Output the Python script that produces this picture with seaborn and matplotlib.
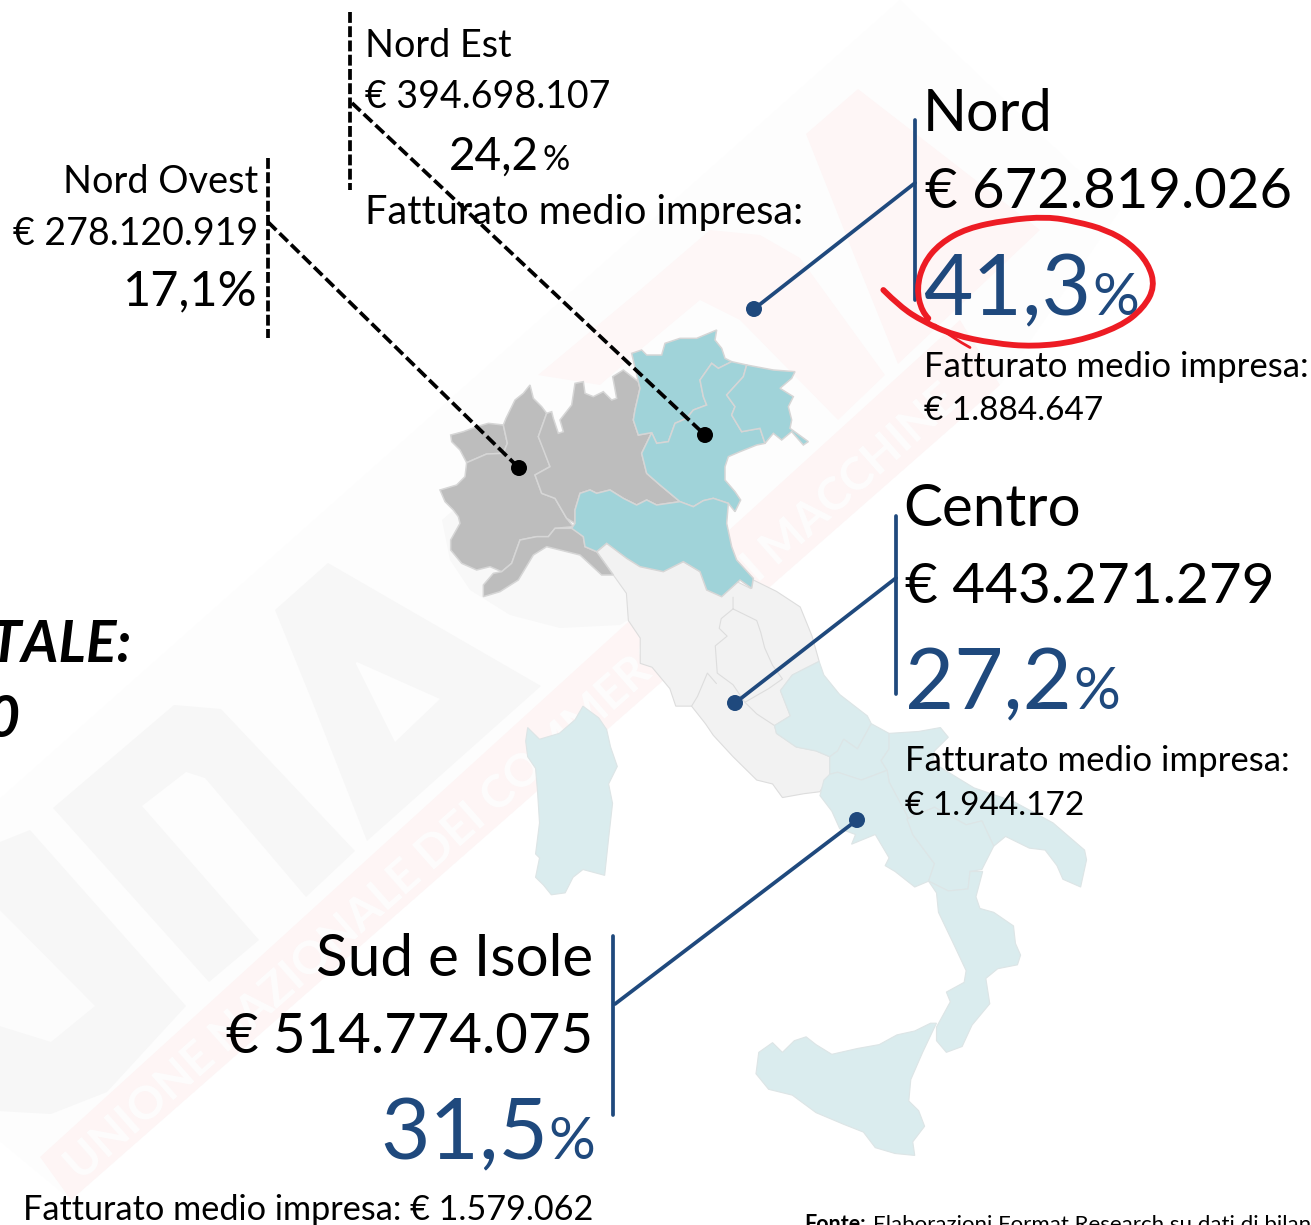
# ==========================================================
# FATTURATO PER AREA - MAPPA ITALIA
# ==========================================================

import matplotlib
matplotlib.use("Agg")
import matplotlib.pyplot as plt
from matplotlib.patches import PathPatch
from matplotlib.path import Path
import seaborn as sns

# ==========================================================
# DATA
# ==========================================================

AREA_TITLES = ["Nord", "Centro", "Sud e Isole"]
AREA_REVENUE = ["€ 672.819.026", "€ 443.271.279", "€ 514.774.075"]
AREA_SHARE = ["41,3", "27,2", "31,5"]
AREA_AVERAGE = ["€ 1.884.647", "€ 1.944.172", "€ 1.579.062"]
AVERAGE_LABEL = "Fatturato medio impresa:"

SUB_TITLES = ["Nord Est", "Nord Ovest"]
SUB_REVENUE = ["€ 394.698.107", "€ 278.120.919"]
SUB_SHARE = ["24,2", "17,1"]

TOTAL_LABEL = "TOTALE:"
TOTAL_TAIL = "0"
SOURCE_BOLD = "Fonte:"
SOURCE_TEXT = "Elaborazioni Format Research su dati di bilancio"
WATERMARK = "UNIONE NAZIONALE DEI COMMERCIANTI MACCHINE"

# region outlines (north = crop A, centre/south = crop B)
VALLE_AOSTA = [(92,375),(130,365),(170,350),(205,340),(250,345),(262,400),(250,430),(200,432),(140,458),(120,420),(95,395)]
PIEMONTE = [(250,345),(258,325),(285,270),(310,250),(330,225),(340,265),(365,290),(380,310),(355,380),(372,420),(390,470),(345,495),(365,550),(405,565),(440,625),(460,650),(405,655),(385,680),(350,680),(300,690),(275,760),(245,785),(210,770),(170,780),(125,760),(92,720),(92,690),(120,640),(115,620),(100,600),(75,575),(60,540),(110,525),(135,500),(140,458),(200,432),(250,430),(262,400)]
LIGURIA = [(460,655),(490,680),(495,710),(530,725),(555,760),(580,795),(545,795),(480,735),(380,710),(340,735),(295,810),(240,845),(190,860),(190,825),(220,790),(245,785),(275,760),(300,690),(350,680),(385,680),(405,655)]
LOMBARDIA = [(380,310),(395,305),(400,325),(415,370),(430,365),(420,330),(455,285),(465,220),(490,215),(495,250),(520,260),(550,245),(575,270),(590,265),(578,200),(610,180),(655,215),(660,235),(645,300),(640,330),(655,375),(695,368),(665,430),(680,490),(720,525),(780,575),(710,585),(680,570),(650,585),(610,565),(570,540),(530,550),(510,540),(480,550),(465,600),(465,640),(440,625),(405,565),(365,550),(345,495),(390,470),(355,380)]
TRENTINO = [(635,130),(665,120),(680,135),(725,135),(735,100),(780,85),(830,85),(890,60),(885,90),(905,115),(915,145),(935,155),(895,175),(875,160),(840,210),(850,260),(860,285),(820,300),(800,325),(765,340),(745,395),(710,400),(695,368),(655,375),(640,330),(645,300),(660,235),(655,215)]
VENETO = [(935,155),(980,165),(970,200),(920,255),(945,290),(935,315),(965,365),(1020,355),(1035,400),(1010,405),(960,425),(925,440),(915,470),(915,510),(945,545),(962,570),(945,605),(925,580),(880,565),(850,572),(820,590),(780,575),(720,525),(680,490),(665,430),(695,368),(710,400),(745,395),(765,340),(800,325),(820,300),(860,285),(850,260),(840,210),(875,160),(895,175)]
FRIULI = [(980,165),(1060,180),(1125,185),(1115,205),(1080,235),(1120,260),(1105,290),(1115,330),(1110,355),(1165,395),(1150,405),(1115,365),(1085,390),(1060,370),(1035,400),(1020,355),(965,365),(935,315),(945,290),(920,255),(970,200)]
EMILIA = [(465,640),(465,600),(480,550),(510,540),(530,550),(570,540),(610,565),(650,585),(680,570),(710,585),(780,575),(820,590),(850,572),(880,565),(925,580),(920,640),(935,710),(950,750),(1000,805),(995,835),(960,810),(905,860),(860,840),(840,785),(790,755),(730,785),(660,770),(620,745),(560,700),(530,725),(495,710),(490,680),(455,655)]

CENTRO = [(287,13),(320,60),(325,130),(355,175),(355,240),(385,250),(430,305),(445,350),(485,350),(520,395),(540,425),(590,480),(650,540),(690,550),(715,585),(770,575),(810,570),(835,525),(835,480),(800,465),(750,455),(700,420),(695,400),(735,375),(710,310),(740,270),(808,235),(790,170),(760,95),(700,55),(640,25),(635,48),(600,30),(561,67),(506,4),(400,-60),(270,-68),(245,-46)]
UMBRIA_LINE = [(590,70),(590,100),(560,125),(555,150),(575,170),(545,195),(550,265),(590,295),(620,340),(680,305),(715,280),(690,245),(670,200),(660,160),(650,130),(620,115),(590,100)]
TOSCANA_LINE = [(485,350),(500,325),(525,265),(548,292)]
MARCHE_LINE = [(620,340),(650,370),(695,400)]

ABRUZZO = [(808,235),(820,270),(860,320),(930,375),(940,395),(905,460),(870,435),(855,465),(835,480),(800,465),(750,455),(700,420),(695,400),(735,375),(710,310),(740,270)]
MOLISE = [(940,395),(985,420),(985,460),(965,490),(980,515),(915,540),(855,520),(835,525),(835,480),(855,465),(870,435),(905,460)]
PUGLIA = [(985,420),(1060,415),(1115,405),(1135,430),(1100,465),(1095,495),(1200,560),(1300,595),(1400,650),(1480,720),(1485,745),(1470,815),(1425,795),(1410,760),(1380,720),(1340,715),(1280,685),(1250,710),(1220,645),(1180,655),(1100,610),(1030,640),(1000,575),(985,545),(980,515),(965,490),(985,460)]
CAMPANIA = [(835,525),(855,520),(915,540),(980,515),(985,545),(1030,630),(1045,680),(1100,755),(1085,800),(1050,815),(1000,775),(975,760),(985,740),(950,680),(890,705),(900,680),(860,665),(840,620),(810,580),(820,540)]
BASILICATA = [(1030,640),(1100,610),(1180,655),(1220,645),(1250,710),(1220,770),(1190,775),(1185,820),(1135,825),(1105,810),(1085,800),(1100,755),(1045,680)]
CALABRIA = [(1085,800),(1105,810),(1135,825),(1185,820),(1190,775),(1222,775),(1205,840),(1215,870),(1250,880),(1300,915),(1305,960),(1318,990),(1310,1015),(1260,1025),(1230,1050),(1240,1115),(1195,1170),(1170,1225),(1130,1240),(1105,1210),(1105,1175),(1140,1110),(1130,1085),(1175,1060),(1180,1030),(1150,965),(1110,880),(1105,830)]
SICILIA = [(1105,1165),(1090,1165),(1050,1185),(1005,1195),(960,1220),(905,1230),(840,1245),(800,1220),(775,1200),(745,1210),(715,1240),(690,1215),(655,1240),(648,1295),(680,1335),(740,1350),(800,1395),(870,1425),(920,1445),(950,1485),(1000,1500),(1050,1505),(1045,1470),(1075,1430),(1060,1390),(1035,1365),(1040,1310),(1070,1240)]
SARDEGNA = [(210,350),(250,380),(270,410),(280,455),(297,505),(275,550),(285,600),(275,690),(265,785),(210,770),(185,790),(165,830),(130,835),(110,810),(90,790),(100,740),(90,730),(100,650),(95,570),(90,510),(70,480),(65,440),(70,405),(100,435),(150,420),(190,385)]

# hand drawn circle round 41,3 %, crop C
RED_CIRCLE = [(70,270),(120,320),(190,365),(280,405),(400,430),(520,440),(650,425),(780,380),(850,325),(885,260),(865,190),(810,130),(740,90),(650,65),(560,50),(440,60),(320,85),(240,130),(190,190),(170,265),(185,335),(225,375)]
RED_TAIL = [(225,375),(280,415),(380,470)]

# watermark shapes, picture units
BG_LOGO = [(-50,843),(900,0),(1120,210),(1000,385),(71,1200),(-50,1100)]
PINK_BAND = [(40,1157),(71,1200),(1000,385),(960,320)]
PINK_N = [(538,375),(640,290),(710,230),(760,235),(800,258),(885,375),(838,420),(740,320),(700,300),(640,350),(600,385)]
PINK_A = [(806,134),(858,89),(1040,230),(898,364),(852,250)]
LETTER_U = [(-20,850),(30,830),(186,1006),(107,1092),(51,1114),(-20,1110)]
LETTER_U_IN = [(-20,890),(95,1006),(51,1042),(-20,1020)]
LETTER_N = [(53,808),(174,705),(221,709),(355,851),(306,897),(205,778),(186,772),(142,806),(259,940),(209,982)]
LETTER_A = [(275,610),(328,563),(541,686),(367,841),(312,701),(354,660),(395,742),(440,699),(357,662),(312,701)]
NORTH_RING = [(442,520),(450,560),(470,590),(510,615),(560,628),(620,625),(660,600),(680,540),(600,480),(500,470)]

# ==========================================================
# CROP -> PICTURE UNITS
# ==========================================================

def crop_a(pts):
    return [(420 + x / 3, 310 + y / 3) for x, y in pts]

def crop_b(pts):
    return [(500 + x * 0.395, 570 + y * 0.389) for x, y in pts]

def crop_c(pts):
    return [(860 + x / 3, 200 + y / 3) for x, y in pts]

def smooth_path(pts):
    # quadratic pieces through the midpoints, for the pen stroke
    verts = [pts[0]]
    codes = [Path.MOVETO]
    for i in range(1, len(pts) - 1):
        mid = ((pts[i][0] + pts[i + 1][0]) / 2, (pts[i][1] + pts[i + 1][1]) / 2)
        verts += [pts[i], mid]
        codes += [Path.CURVE3, Path.CURVE3]
    return Path(verts, codes)

# ==========================================================
# FIGURE
# ==========================================================

sns.set_theme(style="white")
plt.rcParams["font.family"] = ["Lato", "DejaVu Sans"]

BLUE = "#1F497D"
GREY = "#BDBDBD"
TEAL = "#A0D3D9"
PALE = "#DAECEE"
CENTRE = "#F2F2F2"

fig = plt.figure(figsize=(13.11, 12.25), dpi=100)
ax = fig.add_axes([0, 0, 1, 1])
ax.set_xlim(0, 1311)
ax.set_ylim(1225, 0)
ax.axis("off")

# ==========================================================
# WATERMARK
# ==========================================================

for shape, colour in [
    (BG_LOGO, "#FDFDFD"),
    (PINK_N, "#FEF7F7"),
    (PINK_A, "#FEF6F6"),
    (PINK_BAND, "#FEF5F5"),
    (NORTH_RING, "#F8F8F8"),
    (LETTER_U, "#F7F7F7"),
    (LETTER_U_IN, "#FCFCFC"),
    (LETTER_N, "#F7F7F7"),
    (LETTER_A, "#F7F7F7"),
]:
    xs, ys = zip(*shape)
    ax.fill(xs, ys, color=colour, lw=0, zorder=1)

ax.text(72, 1172, WATERMARK, fontsize=33, fontweight="bold", color="#FDFDFD",
        rotation=41.5, rotation_mode="anchor", ha="left", va="center", zorder=2)

# ==========================================================
# MAP
# ==========================================================

for shape, colour in [
    (VALLE_AOSTA, GREY), (PIEMONTE, GREY), (LIGURIA, GREY), (LOMBARDIA, GREY),
    (TRENTINO, TEAL), (VENETO, TEAL), (FRIULI, TEAL), (EMILIA, TEAL),
]:
    xs, ys = zip(*crop_a(shape))
    ax.fill(xs, ys, facecolor=colour, edgecolor="#D6D6D6", lw=1.1, zorder=5)

xs, ys = zip(*crop_b(CENTRO))
ax.fill(xs, ys, facecolor=CENTRE, edgecolor="#DDDDDD", lw=0.8, zorder=3)

for line in [UMBRIA_LINE, TOSCANA_LINE, MARCHE_LINE]:
    xs, ys = zip(*crop_b(line))
    ax.plot(xs, ys, color="#DDDDDD", lw=0.8, zorder=3)

for shape in [ABRUZZO, MOLISE, PUGLIA, CAMPANIA, BASILICATA, CALABRIA, SICILIA, SARDEGNA]:
    xs, ys = zip(*crop_b(shape))
    ax.fill(xs, ys, facecolor=PALE, edgecolor="#DDE5E6", lw=0.8, zorder=4)

# ==========================================================
# LEADERS
# ==========================================================

BLUE_BARS = [((915, 120), (915, 300)), ((896, 516), (896, 694)), ((613, 936), (613, 1115))]
BLUE_LEADS = [((915, 183), (754, 309)), ((896, 578), (735, 703)), ((615, 1004), (857, 820))]
BLACK_BARS = [((350, 12), (350, 190)), ((268, 158), (268, 338))]
BLACK_LEADS = [((352, 103), (705, 435)), ((268, 222), (519, 468))]

for (a, b) in BLUE_BARS + BLUE_LEADS:
    sns.lineplot(x=[a[0], b[0]], y=[a[1], b[1]], sort=False, estimator=None,
                 color=BLUE, linewidth=2.7, ax=ax, zorder=6)

for (a, b) in BLACK_BARS:
    sns.lineplot(x=[a[0], b[0]], y=[a[1], b[1]], sort=False, estimator=None,
                 color="black", linewidth=2.7, linestyle=(0, (2.9, 0.9)), ax=ax, zorder=6)

for (a, b) in BLACK_LEADS:
    sns.lineplot(x=[a[0], b[0]], y=[a[1], b[1]], sort=False, estimator=None,
                 color="black", linewidth=2.7, linestyle=(0, (3.1, 1.2)), ax=ax, zorder=6)

sns.scatterplot(x=[b[0] for a, b in BLUE_LEADS], y=[b[1] for a, b in BLUE_LEADS],
                s=133, color=BLUE, edgecolor="none", legend=False, ax=ax, zorder=7)
sns.scatterplot(x=[b[0] for a, b in BLACK_LEADS], y=[b[1] for a, b in BLACK_LEADS],
                s=133, color="black", edgecolor="none", legend=False, ax=ax, zorder=7)

# reset limits, lineplot and scatterplot may move them
ax.set_xlim(0, 1311)
ax.set_ylim(1225, 0)
ax.set_xlabel("")
ax.set_ylabel("")

# ==========================================================
# TEXT
# ==========================================================

# Nord
ax.text(923, 131, AREA_TITLES[0], fontsize=41.5, color="black", zorder=9)
ax.text(925, 208, AREA_REVENUE[0], fontsize=40.5, color="black", zorder=9)
ax.text(923, 315, AREA_SHARE[0], fontsize=61.5, color=BLUE, zorder=9)
ax.text(1139, 315, "%", fontsize=42, color=BLUE, ha="right", zorder=9)
ax.text(924, 377, AVERAGE_LABEL, fontsize=25, color="black", zorder=9)
ax.text(924, 420, AREA_AVERAGE[0], fontsize=24, color="black", zorder=9)

# Centro
ax.text(903, 526, AREA_TITLES[1], fontsize=42, color="black", zorder=9)
ax.text(905, 603, AREA_REVENUE[1], fontsize=40.8, color="black", zorder=9)
ax.text(905, 709, AREA_SHARE[1], fontsize=61, color=BLUE, zorder=9)
ax.text(1120, 709, "%", fontsize=42, color=BLUE, ha="right", zorder=9)
ax.text(905, 771, AVERAGE_LABEL, fontsize=25, color="black", zorder=9)
ax.text(905, 815, AREA_AVERAGE[1], fontsize=24, color="black", zorder=9)

# Sud e Isole
ax.text(593, 976, AREA_TITLES[2], fontsize=42, color="black", ha="right", zorder=9)
ax.text(593, 1053, AREA_REVENUE[2], fontsize=40.5, color="black", ha="right", zorder=9)
ax.text(380, 1159, AREA_SHARE[2], fontsize=61.5, color=BLUE, zorder=9)
ax.text(595, 1159, "%", fontsize=42, color=BLUE, ha="right", zorder=9)
ax.text(593, 1220, AVERAGE_LABEL + " " + AREA_AVERAGE[2], fontsize=24.7, color="black", ha="right", zorder=9)

# Nord Est
ax.text(365, 57, SUB_TITLES[0], fontsize=27.2, color="black", zorder=9)
ax.text(365, 108, SUB_REVENUE[0], fontsize=27, color="black", zorder=9)
ax.text(449, 170, SUB_SHARE[0], fontsize=33, color="black", zorder=9)
ax.text(570, 170, "%", fontsize=24.5, color="black", ha="right", zorder=9)
ax.text(365, 224, AVERAGE_LABEL, fontsize=28.6, color="black", zorder=9)

# Nord Ovest
ax.text(258, 193, SUB_TITLES[1], fontsize=27.3, color="black", ha="right", zorder=9)
ax.text(258, 245, SUB_REVENUE[1], fontsize=27, color="black", ha="right", zorder=9)
ax.text(258, 305, SUB_SHARE[1] + "%", fontsize=35, color="black", ha="right", zorder=9)

# Totale, cut by the page edge
ax.text(132, 662, TOTAL_LABEL, fontsize=41, fontweight="bold", fontstyle="italic", color="black", ha="right", zorder=9)
ax.text(19, 737, TOTAL_TAIL, fontsize=41, fontweight="bold", fontstyle="italic", color="black", ha="right", zorder=9)

# Fonte, cut by the page edge
ax.text(804, 1231, SOURCE_BOLD, fontsize=15.5, fontweight="bold", color="black", zorder=9)
ax.text(873, 1231, SOURCE_TEXT, fontsize=16, color="black", zorder=9)

# red circle on top of everything
ax.add_patch(PathPatch(smooth_path(crop_c(RED_CIRCLE)), facecolor="none", edgecolor="#ED1C24",
                       lw=4.2, capstyle="round", joinstyle="round", zorder=10))
ax.add_patch(PathPatch(smooth_path(crop_c(RED_TAIL)), facecolor="none", edgecolor="#ED1C24",
                       lw=2, capstyle="round", zorder=10))

fig.savefig("out.png", dpi=100)
